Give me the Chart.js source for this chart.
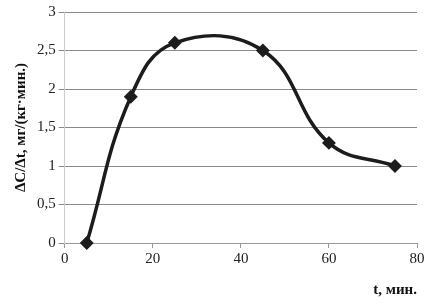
<!DOCTYPE html>
<html>
<head>
<meta charset="utf-8">
<script src="https://cdn.jsdelivr.net/npm/chart.js@4"></script>
<style>
  html, body { margin: 0; padding: 0; background: #fff; }
  #wrap { width: 433px; height: 306px; }
</style>
</head>
<body>
<div id="wrap"><canvas id="chart"></canvas></div>
<script>
const tValues = [5, 15, 25, 45, 60, 75];
const rateValues = [0, 1.9, 2.6, 2.5, 1.3, 1.0];

const xTitle = 't, мин.';
const yTitle = 'ΔC/Δt, мг/(кг·мин.)';

const points = tValues.map((t, i) => ({ x: t, y: rateValues[i] }));
const serif = '"Liberation Serif", "DejaVu Serif", serif';

new Chart(document.getElementById('chart'), {
    type: 'scatter',
    data: {
        datasets: [{
            data: points,
            showLine: true,
            tension: 0.42,
            clip: false,
            borderColor: '#1c1c1c',
            borderWidth: 3.5,
            pointStyle: 'rectRot',
            pointRadius: 4.5,
            pointBackgroundColor: '#1c1c1c',
            pointBorderColor: '#1c1c1c'
        }]
    },
    options: {
        responsive: true,
        maintainAspectRatio: false,
        animation: false,
        layout: { padding: { top: 10, right: 16, bottom: 7, left: 12 } },
        plugins: { legend: { display: false }, tooltip: { enabled: false } },
        scales: {
            x: {
                type: 'linear',
                min: 0, max: 80,
                ticks: { stepSize: 20, color: '#222', font: { family: serif, size: 15 }, padding: 2 },
                grid: { drawOnChartArea: false, drawTicks: true, tickLength: 5, color: '#999' },
                border: { display: true, color: '#999' },
                title: {
                    display: true, text: xTitle, align: 'end', color: '#111',
                    font: { family: serif, size: 15, weight: 'bold' },
                    padding: { top: 11, bottom: 0 }
                }
            },
            y: {
                min: 0, max: 3,
                ticks: {
                    stepSize: 0.5, color: '#222', font: { family: serif, size: 15 }, padding: 3,
                    callback: v => String(v).replace('.', ',')
                },
                grid: { color: '#8a8a8a', tickLength: 6 },
                border: { display: true, color: '#ccc' },
                title: {
                    display: true, text: yTitle, color: '#111',
                    font: { family: serif, size: 15, weight: 'bold' },
                    padding: { top: 0, bottom: 4 }
                }
            }
        }
    }
});
</script>
</body>
</html>
